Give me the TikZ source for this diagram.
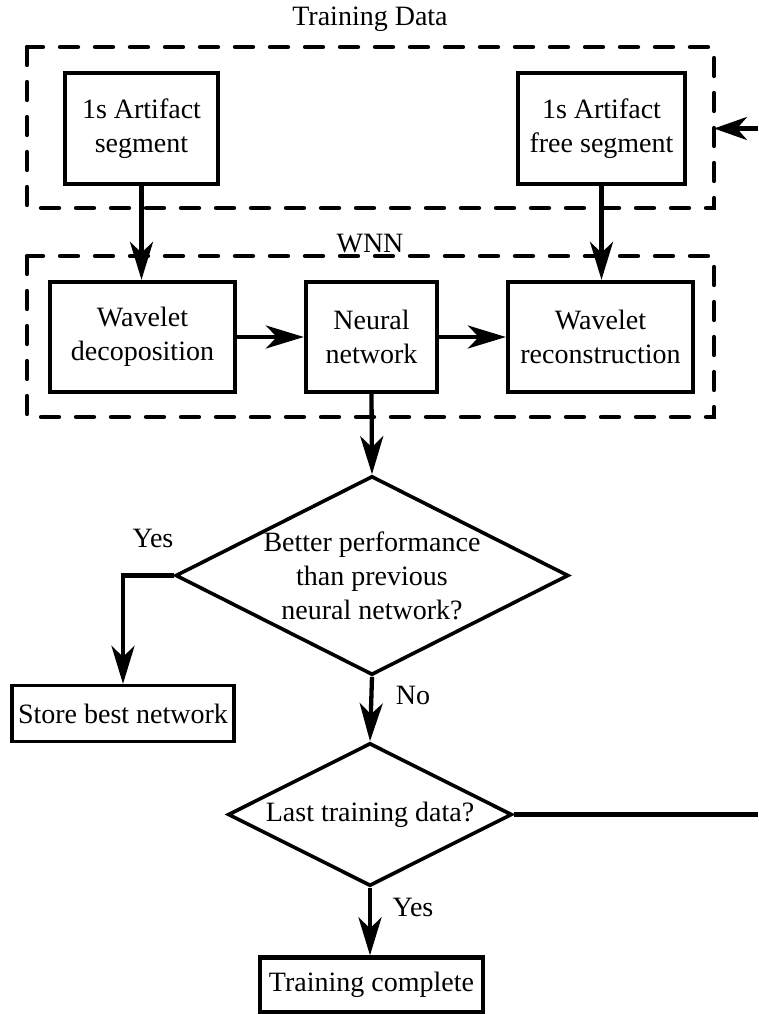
\documentclass[tikz,border=0pt]{standalone}
\usepackage{fontspec}
\setmainfont{Liberation Serif}
\usetikzlibrary{arrows.meta,shapes.geometric}

\begin{document}
\begin{tikzpicture}[x=1pt,y=-1pt,
  every node/.style={font=\fontsize{28}{34}\selectfont, align=center, inner sep=0pt},
  stepbox/.style={draw, line width=4.3pt, rectangle},
  decision/.style={draw, line width=3.6pt, diamond, line join=miter},
  groupbox/.style={draw, line width=4.3pt, dash pattern=on 18pt off 17pt, line cap=round},
  link/.style={line width=4.3pt},
  flow/.style={link, -{Stealth[length=38pt,width=23pt,inset=11pt]}},
  lbl/.style={}
]
\useasboundingbox (0,0) rectangle (758,1014);

% group frames and their titles
\draw[groupbox] (27,47) rectangle (714,208);
\draw[groupbox] (27,256) rectangle (714,417);
\node[lbl] (tdlabel) at (370,19) {Training Data};
\node[lbl] (wnnlabel) at (370,244) {WNN};

% training data segments
\node[stepbox, minimum width=153pt, minimum height=111pt] (art) at (141.5,128.5) {1s Artifact\\segment};
\node[stepbox, minimum width=167pt, minimum height=111pt] (free) at (601.5,128.5) {1s Artifact\\free segment};

% wavelet neural network stages
\node[stepbox, minimum width=185pt, minimum height=110pt] (wdec) at (142.5,337) {Wavelet\\decoposition};
\node[stepbox, minimum width=131pt, minimum height=110pt] (nn) at (371.5,337) {Neural\\network};
\node[stepbox, minimum width=185pt, minimum height=110pt] (wrec) at (600.5,337) {Wavelet\\reconstruction};

% decisions
\node[decision, minimum width=393pt, minimum height=199pt] (d1) at (372,575.5) {};
\node (d1text) at (d1.center) {Better performance\\than previous\\neural network?};
\node[decision, minimum width=284pt, minimum height=143pt] (d2) at (370,814.5) {};
\node (d2text) at (d2.center) {Last training data?};

% outcomes
\node[stepbox, line width=3.3pt, minimum width=222pt, minimum height=56pt] (store) at (123,713.5) {Store best network};
\node[stepbox, minimum width=223pt, minimum height=55pt] (done) at (371.5,985) {Training complete};

% branch labels
\node[lbl] (yes1) at (153,538) {Yes};
\node[lbl] (no1) at (413,695) {No};
\node[lbl] (yes2) at (413,907) {Yes};

% loop ends at the page edge
\coordinate (loopin) at (758,128.5);
\coordinate (loopout) at (758,814.5);
\coordinate (tdeast) at (714,128.5);

% connectors
\draw[flow] (art.south) -- (art.south |- wdec.north);
\draw[flow] (free.south) -- (free.south |- wrec.north);
\draw[flow] (wdec.east) -- (nn.west);
\draw[flow] (nn.east) -- (wrec.west);
\draw[flow] (nn.south) -- (d1.north);
\draw[flow] (d1.west) -| (store.north);
\draw[flow] (d1.south) -- (d2.north);
\draw[flow] (d2.south) -- (d2.south |- done.north);
\draw[link] (d2.east) -- (loopout);
\draw[link, -{Stealth[length=33pt,width=23pt,inset=10pt]}] (loopin) -- (tdeast);
\end{tikzpicture}
\end{document}
